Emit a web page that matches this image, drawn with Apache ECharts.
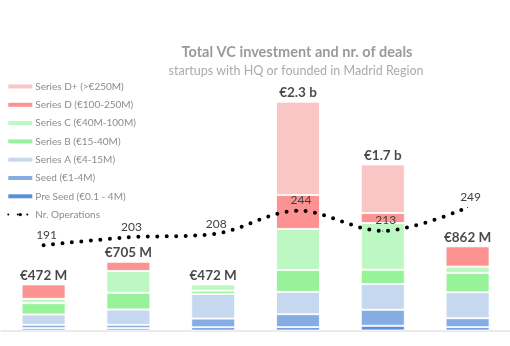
<!DOCTYPE html>
<html>
<head>
<meta charset="utf-8">
<script src="https://cdn.jsdelivr.net/npm/echarts@6/dist/echarts.min.js"></script>
<style>
  html, body { margin: 0; padding: 0; background: #fff; }
  #chart { width: 510px; height: 346px; }
</style>
</head>
<body>
<div id="chart"></div>
<script>
// Periods (not shown on the axis)
const periods = ['P1', 'P2', 'P3', 'P4', 'P5', 'P6'];

// Investment per funding stage, € millions
const preSeed     = [24, 24, 33, 34, 48, 34];
const seed        = [34, 34, 89, 133, 164, 92];
const seriesA     = [106, 157, 252, 228, 263, 265];
const seriesB     = [116, 171, 34, 225, 147, 198];
const seriesC     = [44, 224, 64, 420, 478, 65];
const seriesD     = [148, 95, 0, 348, 102, 208];
const seriesDPlus = [0, 0, 0, 955, 498, 0];

// Number of deals
const operations = [191, 203, 208, 244, 213, 249];

const stages = [
  { name: 'Pre Seed (€0.1 - 4M)', data: preSeed,     color: '#5a8fdc' },
  { name: 'Seed (€1-4M)',         data: seed,        color: '#85ade3' },
  { name: 'Series A (€4-15M)',    data: seriesA,     color: '#c5d8f0' },
  { name: 'Series B (€15-40M)',   data: seriesB,     color: '#98f29a' },
  { name: 'Series C (€40M-100M)', data: seriesC,     color: '#bdf7c1' },
  { name: 'Series D (€100-250M)', data: seriesD,     color: '#fd9292' },
  { name: 'Series D+ (>€250M)',   data: seriesDPlus, color: '#f9c5c5' }
];

const totals = periods.map((_, i) => stages.reduce((s, st) => s + st.data[i], 0));

function fmtTotal(v) {
  return v >= 1000 ? '€' + (v / 1000).toFixed(1) + ' b' : '€' + v + ' M';
}

const FONT = 'Lato';

const barSeries = stages.map(st => ({
  name: st.name,
  type: 'bar',
  stack: 'inv',
  barWidth: 44,
  data: st.data,
  itemStyle: { color: st.color, borderColor: 'rgba(255,255,255,0.85)', borderWidth: 1 },
  emphasis: { disabled: true }
}));

const option = {
  animation: false,
  backgroundColor: '#fff',
  title: [
    {
      text: 'Total VC investment and nr. of deals',
      left: 292, top: 40, textAlign: 'center',
      textStyle: { fontFamily: FONT, fontSize: 14.5, fontWeight: 'bold', color: '#9a9a9a' }
    },
    {
      text: 'startups with HQ or founded in Madrid Region',
      left: 291, top: 59.5, textAlign: 'center',
      textStyle: { fontFamily: FONT, fontSize: 12.5, fontWeight: 'normal', color: '#ababab' }
    }
  ],
  legend: {
    orient: 'vertical',
    left: 2.3, top: 75.5,
    itemWidth: 24, itemHeight: 4, itemGap: 6.3,
    itemStyle: { borderWidth: 0 },
    textStyle: { fontFamily: FONT, fontSize: 10, color: '#8c8c8c', lineHeight: 12, padding: [0, 0, 0, -2] },
    data: stages.slice().reverse().map(st => ({ name: st.name, icon: 'rect' })).concat([{ name: 'Nr. Operations' }])
  },
  grid: { left: 1.2, right: -4.8, top: 37.5, bottom: 15.5 },
  xAxis: {
    type: 'category',
    data: periods,
    axisLine: { show: true, lineStyle: { color: '#e4e4e4', width: 1.5 } },
    axisTick: { show: false },
    axisLabel: { show: false }
  },
  yAxis: [
    { type: 'value', min: 0, max: 3000, show: false, splitLine: { show: false } },
    { type: 'value', min: 60, max: 510, show: false, splitLine: { show: false } }
  ],
  series: barSeries.concat([
    {
      name: 'Total',
      type: 'scatter',
      symbolSize: 0,
      data: totals,
      label: {
        show: true, position: 'top', distance: 2,
        formatter: p => fmtTotal(p.value),
        fontFamily: FONT, fontSize: 13.5, fontWeight: 'bold', color: '#1a1a1a'
      },
      z: 5
    },
    {
      name: 'Nr. Operations',
      type: 'line',
      yAxisIndex: 1,
      data: operations,
      smooth: 0.35,
      symbol: 'circle',
      symbolSize: 1,
      showSymbol: true,
      lineStyle: { color: '#000', width: 4, type: [0, 9.5], cap: 'round' },
      itemStyle: { color: '#000' },
      label: {
        show: true, position: 'top', distance: 4, offset: [3, 0],
        fontFamily: FONT, fontSize: 12, color: '#404040'
      },
      z: 6
    }
  ])
};

const chart = echarts.init(document.getElementById('chart'), null, { renderer: 'canvas' });
chart.setOption(option);
</script>
</body>
</html>
